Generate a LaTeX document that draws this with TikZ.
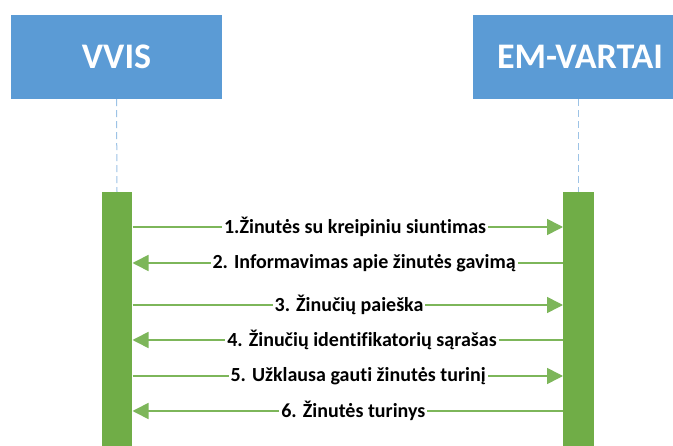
\documentclass[tikz,border=0pt]{standalone}
\usepackage{fontspec}
\setmainfont{Carlito}[Ligatures=NoCommon]
\usetikzlibrary{arrows.meta}
\definecolor{hdrblue}{HTML}{5B9BD5}
\definecolor{dashblue}{HTML}{9DC3E6}
\definecolor{bargreen}{HTML}{70AD47}
\definecolor{linegreen}{HTML}{7DB65A}
\tikzset{
  hdr/.style={fill=hdrblue, text=white, font=\fontsize{36}{42}\selectfont\bfseries,
    minimum width=211pt, minimum height=84pt, inner sep=0pt},
  lifebar/.style={fill=bargreen, minimum width=30.6pt, minimum height=258pt, inner sep=0pt},
  dashline/.style={draw=dashblue, line width=1pt, dash pattern=on 7pt off 4pt},
  msg/.style={draw=linegreen, line width=1.6pt, -{Triangle[length=16pt,width=16pt]}},
  lbl/.style={fill=white, text=black, font=\fontsize{20}{24}\selectfont\bfseries,
    inner xsep=2pt, inner ysep=0pt}
}
\begin{document}
\begin{tikzpicture}[x=1pt,y=-1pt]
\clip (0,0) rectangle (673,446);
\fill[white] (0,0) rectangle (673,446);
\node[hdr] (vvis) at (116.5,57) {VVIS};
\node[hdr] (em) at (578.5,57) {\hspace*{3pt}EM-VARTAI};
\node[lifebar] (b1) at (117,321) {};
\node[lifebar] (b2) at (578.5,321) {};
\draw[dashline] (vvis.south) -- (b1.north);
\draw[dashline] (em.south) -- (b2.north);
\draw[msg] (b1.east |- {0,227}) -- node[lbl, pos=0.517] {1.Žinutės su kreipiniu siuntimas} (b2.west |- {0,227});
\draw[msg] (b2.west |- {0,263}) -- node[lbl, pos=0.462] {2. Informavimas apie žinutės gavimą} (b1.east |- {0,263});
\draw[msg] (b1.east |- {0,305}) -- node[lbl, pos=0.503] {3. Žinučių paieška} (b2.west |- {0,305});
\draw[msg] (b2.west |- {0,340}) -- node[lbl, pos=0.467] {4. Žinučių identifikatorių sąrašas} (b1.east |- {0,340});
\draw[msg] (b1.east |- {0,376}) -- node[lbl, pos=0.524] {5. Užklausa gauti žinutės turinį} (b2.west |- {0,376});
\draw[msg] (b2.west |- {0,411}) -- node[lbl, pos=0.487] {6. Žinutės turinys} (b1.east |- {0,411});
\end{tikzpicture}
\end{document}
